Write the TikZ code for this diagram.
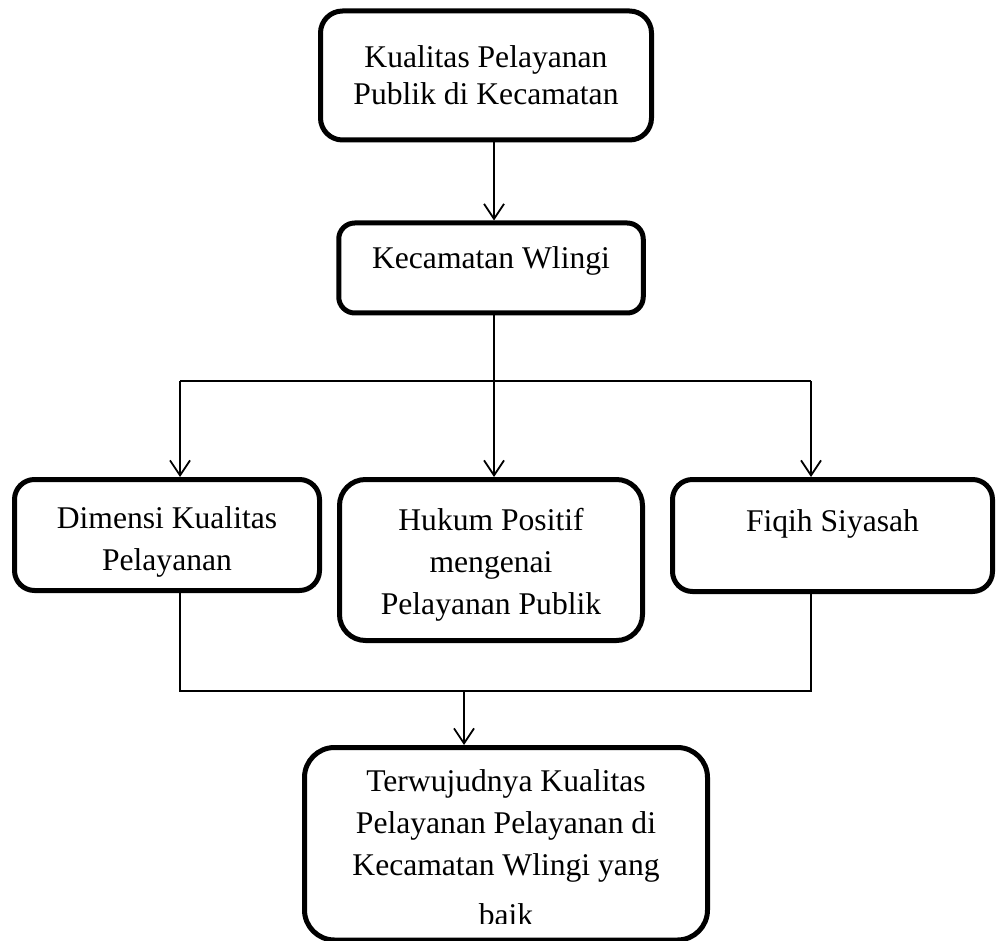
\documentclass[tikz,border=0pt]{standalone}
\usepackage{fontspec}
\setmainfont{Liberation Serif}
\usetikzlibrary{arrows.meta,positioning}
\tikzset{panah/.style={line width=0.9pt, -{Straight Barb[length=7.5pt, width=10pt]}},
  garis/.style={line width=0.9pt},
  kotak/.style={draw, line width=2.5pt, align=center, inner sep=0pt,
    font=\fontsize{15.8pt}{21pt}\selectfont}}

\begin{document}
\begin{tikzpicture}[x=0.5pt, y=-0.5pt]
  \useasboundingbox (0,0) rectangle (996,941);
  \node[kotak, rounded corners=11pt, minimum width=165.5pt, minimum height=64.5pt,
    font=\fontsize{15.8pt}{18.5pt}\selectfont] (asal) at (486,75.5) {Kualitas Pelayanan\\Publik di Kecamatan};
  \node[kotak, rounded corners=8pt, minimum width=152.25pt, minimum height=45pt, text depth=10.8pt] (kecamatan) at (491,268) {Kecamatan Wlingi};
  \node[kotak, rounded corners=10pt, minimum width=152.5pt, minimum height=55.5pt, text height=38.45pt] (dimensi) at (167,535) {Dimensi Kualitas\\Pelayanan};
  \node[kotak, rounded corners=13pt, minimum width=151.5pt, minimum height=80.5pt, text height=57.45pt] (hukum) at (491,560) {Hukum Positif\\mengenai\\Pelayanan Publik};
  \node[kotak, rounded corners=10pt, minimum width=160pt, minimum height=56pt, text depth=15.3pt] (fiqih) at (832.5,535.5) {Fiqih Siyasah};
  % last line of the bottom box is cut off
  \begin{scope}
    \clip (0,0) rectangle (996,923) (0,923) rectangle (460,941) (550,923) rectangle (996,941) (0,932) rectangle (996,941);
    \node[kotak, rounded corners=15pt, minimum width=201.5pt, minimum height=96.25pt, text height=82.25pt] (hasil) at (506,843.75) {Terwujudnya Kualitas\\Pelayanan Pelayanan di\\Kecamatan Wlingi yang\\[4pt]baik};
  \end{scope}
  \coordinate (atas) at (494,381);
  \coordinate (kiri1) at (180,381);
  \coordinate (kanan1) at (811,381);
  \coordinate (kiri2) at (180,691);
  \coordinate (kanan2) at (811,691);
  \coordinate (bawah) at (464,691);
  \draw[panah] (asal.south -| atas) -- (kecamatan.north -| atas);
  \draw[garis] (kecamatan.south -| atas) -- (atas);
  \draw[garis] (kiri1) -- (kanan1);
  \foreach \t/\b in {kiri1/dimensi, atas/hukum, kanan1/fiqih}{\draw[panah] (\t) -- (\t |- \b.north);}
  \draw[garis] (dimensi.south -| kiri2) -- (kiri2) -- (kanan2) -- (fiqih.south -| kanan2);
  \draw[panah] (bawah) -- (bawah |- hasil.north);
\end{tikzpicture}
\end{document}
